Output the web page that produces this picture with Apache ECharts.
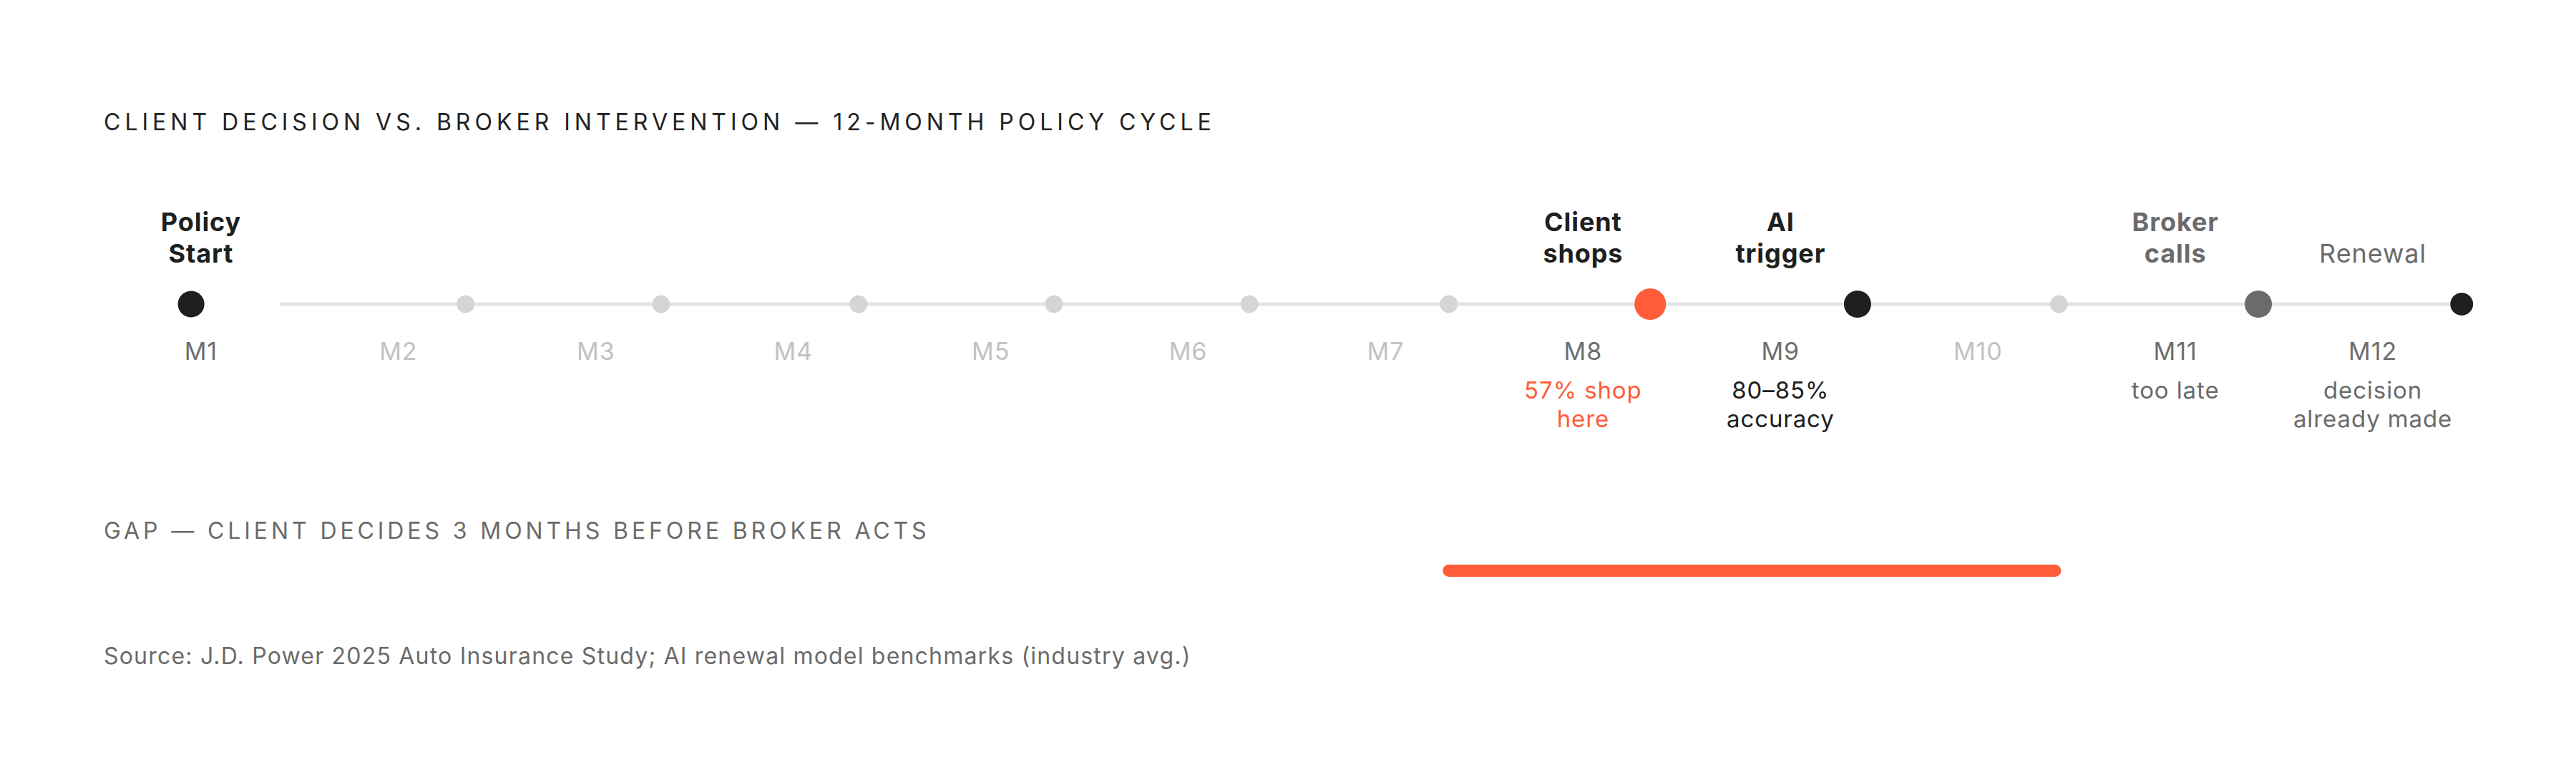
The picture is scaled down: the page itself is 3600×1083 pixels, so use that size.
<!DOCTYPE html>
<html>
<head>
<meta charset="utf-8">
<script src="https://cdn.jsdelivr.net/npm/echarts@6/dist/echarts.min.js"></script>
<style>
  html, body { margin: 0; padding: 0; background: #fff; }
  #chart { width: 3600px; height: 1083px; }
  /* text in the reference is set a touch looser than Inter's display cut */
  #chart svg text { letter-spacing: 0.9px; }
</style>
</head>
<body>
<div id="chart"></div>
<script>
// ---- data ----
const months = ['M1', 'M2', 'M3', 'M4', 'M5', 'M6', 'M7', 'M8', 'M9', 'M10', 'M11', 'M12'];
// where each dot sits on the month scale (label centres are at 1..12)
const dotMonth = [0.95, 2.34, 3.33, 4.33, 5.32, 6.31, 7.32, 8.34, 9.39, 10.41, 11.42, 12.45];
const milestone = ['start', 'idle', 'idle', 'idle', 'idle', 'idle', 'idle', 'shop', 'trigger', 'idle', 'broker', 'renewal'];
const eventLabels = ['Policy\nStart', '', '', '', '', '', '', 'Client\nshops', 'AI\ntrigger', '', 'Broker\ncalls', 'Renewal'];
const notes = ['', '', '', '', '', '', '', '57% shop\nhere', '80–85%\naccuracy', '', 'too late', 'decision\nalready made'];
const trackSpan = [1.40, 12.45];
const gapSpan = [7.32, 10.39];

const chartTitle = 'CLIENT DECISION VS. BROKER INTERVENTION — 12-MONTH POLICY CYCLE';
const gapTitle = 'GAP — CLIENT DECIDES 3 MONTHS BEFORE BROKER ACTS';
const sourceText = 'Source: J.D. Power 2025 Auto Insurance Study; AI renewal model benchmarks (industry avg.)';

// ---- styles ----
const ORANGE = '#ff5c39';
const INK = '#1d201d';
const GREY = '#6b6b6b';
const FONT = 'Inter, "Noto Sans", sans-serif';

const dotStyle = {
  start:   { size: 37, color: INK },
  idle:    { size: 25, color: '#d5d5d5' },
  shop:    { size: 44, color: ORANGE },
  trigger: { size: 38, color: INK },
  broker:  { size: 38, color: GREY },
  renewal: { size: 32, color: INK }
};
const eventStyle = { start: 'ink', shop: 'ink', trigger: 'ink', broker: 'grey', renewal: 'plain' };
const noteStyle = { shop: 'orange', trigger: 'dark', broker: 'muted', renewal: 'muted' };

const monthAt = v => {
  const i = Math.round(v) - 1;
  return (i >= 0 && i < months.length && Math.abs(v - i - 1) < 1e-6) ? i : -1;
};

const chart = echarts.init(document.getElementById('chart'), null, { renderer: 'svg', width: 3600, height: 1083 });

chart.setOption({
  animation: false,
  backgroundColor: '#fff',
  grid: [
    { left: 5, right: 8, top: 400, height: 50 },
    { left: 5, right: 8, top: 787.5, height: 20 }
  ],
  xAxis: [
    {
      type: 'value', gridIndex: 0, min: 0, max: 13, interval: 1, position: 'bottom',
      axisLine: { show: false }, axisTick: { show: false }, splitLine: { show: false },
      axisLabel: {
        margin: 6,
        formatter: v => {
          const i = monthAt(v);
          if (i < 0) return '';
          const role = milestone[i];
          let s = '{' + (role === 'idle' ? 'mLight' : 'm') + '|' + months[i] + '}';
          if (notes[i]) {
            s += '\n' + notes[i].split('\n').map(t => '{' + noteStyle[role] + '|' + t + '}').join('\n');
          }
          return s;
        },
        rich: {
          m:      { fontFamily: FONT, fontSize: 34, color: '#6e6e6e', lineHeight: 69 },
          mLight: { fontFamily: FONT, fontSize: 34, color: '#c2c2c2', lineHeight: 69 },
          orange: { fontFamily: FONT, fontSize: 33, color: ORANGE, lineHeight: 40 },
          dark:   { fontFamily: FONT, fontSize: 33, color: INK, lineHeight: 40 },
          muted:  { fontFamily: FONT, fontSize: 33, color: GREY, lineHeight: 40 }
        }
      }
    },
    {
      type: 'value', gridIndex: 0, min: 0, max: 13, interval: 1, position: 'top',
      axisLine: { show: false }, axisTick: { show: false }, splitLine: { show: false },
      axisLabel: {
        margin: 24,
        formatter: v => {
          const i = monthAt(v);
          if (i < 0 || !eventLabels[i]) return '';
          const st = eventStyle[milestone[i]];
          return eventLabels[i].split('\n').map(t => '{' + st + '|' + t + '}').join('\n');
        },
        rich: {
          ink:   { fontFamily: FONT, fontSize: 36, fontWeight: 'bold', color: INK, lineHeight: 44 },
          grey:  { fontFamily: FONT, fontSize: 36, fontWeight: 'bold', color: GREY, lineHeight: 44 },
          plain: { fontFamily: FONT, fontSize: 36, fontWeight: 'normal', color: GREY, lineHeight: 44 }
        }
      }
    },
    { type: 'value', gridIndex: 1, min: 0, max: 13, show: false }
  ],
  yAxis: [
    { type: 'value', gridIndex: 0, min: -1, max: 1, show: false },
    { type: 'value', gridIndex: 1, min: -1, max: 1, show: false }
  ],
  series: [
    {
      type: 'line', xAxisIndex: 0, yAxisIndex: 0, silent: true, z: 1,
      symbol: 'none',
      data: trackSpan.map(v => [v, 0]),
      lineStyle: { color: '#e4e4e4', width: 5 }
    },
    {
      type: 'scatter', xAxisIndex: 0, yAxisIndex: 0, silent: true, z: 3,
      data: dotMonth.map((v, i) => ({
        value: [v, 0],
        symbolSize: dotStyle[milestone[i]].size,
        itemStyle: { color: dotStyle[milestone[i]].color, opacity: 1 }
      }))
    },
    {
      type: 'line', xAxisIndex: 2, yAxisIndex: 1, silent: true,
      symbol: 'none',
      data: gapSpan.map(v => [v, 0]),
      lineStyle: { color: ORANGE, width: 17, cap: 'round' }
    }
  ],
  graphic: [
    { type: 'text', x: 145, y: 170, style: { text: chartTitle, font: '400 32px ' + FONT, fill: '#222', align: 'left', verticalAlign: 'middle' } },
    { type: 'text', x: 145, y: 741.5, style: { text: gapTitle, font: '400 32px ' + FONT, fill: GREY, align: 'left', verticalAlign: 'middle' } },
    { type: 'text', x: 145, y: 916.5, style: { text: sourceText, font: '400 32px ' + FONT, fill: GREY, align: 'left', verticalAlign: 'middle' } }
  ]
});

// tracked caps headings: widen the letter spacing on those svg text nodes
const tracking = {};
tracking[chartTitle] = '6px';
tracking[gapTitle] = '4.9px';
tracking[sourceText] = '1.2px';
function spaceHeadings() {
  chart.getDom().querySelectorAll('text').forEach(t => {
    const ls = tracking[t.textContent];
    if (ls) t.style.letterSpacing = ls;
  });
}
spaceHeadings();
chart.on('finished', spaceHeadings);
</script>
</body>
</html>
